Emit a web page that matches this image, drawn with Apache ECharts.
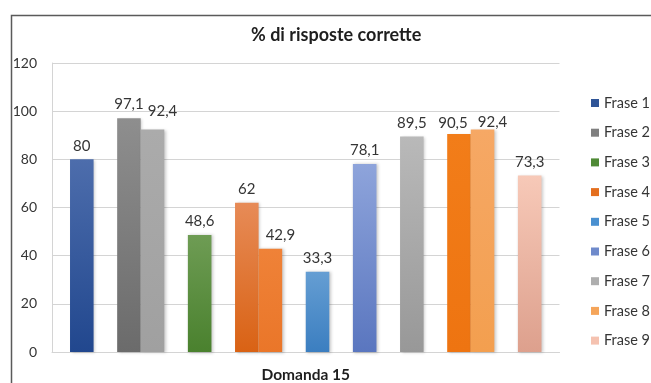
<!DOCTYPE html>
<html>
<head>
<meta charset="utf-8">
<style>
  html, body { margin: 0; padding: 0; background: #ffffff; }
  #chart { width: 651px; height: 383px; }
</style>
<script src="https://cdn.jsdelivr.net/npm/echarts@6/dist/echarts.min.js"></script>
</head>
<body>
<div id="chart"></div>
<script>
// Data
const titolo = '% di risposte corrette';
const categorie = ['Domanda 15'];
const frasi = ['Frase 1', 'Frase 2', 'Frase 3', 'Frase 4', 'Frase 5', 'Frase 6', 'Frase 7', 'Frase 8', 'Frase 9'];
// one list per sentence: some sentences have two bars side by side
const risposte = [[80], [97.1, 92.4], [48.6], [62, 42.9], [33.3], [78.1], [89.5], [90.5, 92.4], [73.3]];
const yMin = 0, yMax = 120, yStep = 20;

// Styles: vertical gradient (top, bottom) for every bar of every sentence
const riempimenti = [
  [['#4D6DAC', '#21478E']],
  [['#8E8E8E', '#6B6B6B'], ['#ABABAB', '#A0A0A0']],
  [['#6E9C54', '#4A812E']],
  [['#E78B57', '#D96214'], ['#EF8238', '#EA7629']],
  [['#659ED3', '#3B7EC0']],
  [['#8EA4DB', '#5A76BF']],
  [['#B9B9B9', '#989898']],
  [['#F27D19', '#EE7411'], ['#F6A865', '#F39F4F']],
  [['#F7C9B8', '#DDA08D']]
];
const coloriLegenda = ['#2F5597', '#7F7F7F', '#4F8A36', '#E46F1F', '#4A90D0', '#6F8ACB', '#AEAEAE', '#F5A55A', '#F5C2B0'];
// nudges for labels that would otherwise collide
const spostaEtichetta = { '1-1': [10, -5], '3-1': [10, 0], '7-0': [-6, 3], '7-1': [10, 6] };

const FONT = 'Lato';
const TESTO = '#353535';

function gradiente(c) {
  return new echarts.graphic.LinearGradient(0, 0, 0, 1, [
    { offset: 0, color: c[0] },
    { offset: 1, color: c[1] }
  ]);
}

const series = [];
risposte.forEach((valori, i) => {
  if (i > 0) {
    // empty slot separating consecutive sentences
    series.push({ type: 'bar', name: '', data: [null], silent: true, barGap: '0%', barCategoryGap: '7.1%' });
  }
  valori.forEach((v, j) => {
    series.push({
      type: 'bar',
      name: frasi[i],
      data: [v],
      barGap: '0%',
      barCategoryGap: '7.1%',
      itemStyle: {
        color: gradiente(riempimenti[i][j]),
        shadowColor: 'rgba(0,0,0,0.22)',
        shadowBlur: 3,
        shadowOffsetX: 1.5,
        shadowOffsetY: 0.5
      },
      label: {
        show: true,
        position: 'top',
        distance: 6,
        offset: spostaEtichetta[i + '-' + j] || [0, 0],
        color: TESTO,
        fontFamily: FONT,
        fontSize: 15,
        formatter: p => String(p.value).replace('.', ',')
      }
    });
  });
});

const chart = echarts.init(document.getElementById('chart'), null, { renderer: 'canvas' });
chart.setOption({
  animation: false,
  backgroundColor: '#ffffff',
  title: {
    text: titolo,
    left: 246,
    top: 21,
    textStyle: { fontFamily: FONT, fontSize: 18, fontWeight: 'bold', color: '#1E1E1E' }
  },
  graphic: [{
    type: 'rect',
    left: 9,
    top: 13,
    shape: { width: 700, height: 400 },
    style: { fill: 'none', stroke: '#5A5A5A', lineWidth: 1.5 },
    silent: true
  }],
  legend: {
    orient: 'vertical',
    left: 586,
    top: 90,
    icon: 'rect',
    itemWidth: 8,
    itemHeight: 8,
    itemGap: 13.7,
    selectedMode: false,
    textStyle: { fontFamily: FONT, fontSize: 14.5, color: TESTO, lineHeight: 16 },
    data: frasi.map((n, i) => ({ name: n, itemStyle: { color: coloriLegenda[i] } }))
  },
  grid: { left: 52, top: 63, right: 91.5, bottom: 29, containLabel: false },
  xAxis: {
    type: 'category',
    data: categorie,
    axisTick: { show: false },
    axisLine: { lineStyle: { color: '#D4D4D4', width: 1 } },
    axisLabel: { margin: 15, fontFamily: FONT, fontSize: 15.5, fontWeight: 'bold', color: '#1E1E1E' }
  },
  yAxis: {
    type: 'value',
    min: yMin,
    max: yMax,
    interval: yStep,
    axisLine: { show: true, lineStyle: { color: '#D4D4D4', width: 1 } },
    axisTick: { show: false },
    splitLine: { lineStyle: { color: '#D4D4D4', width: 1 } },
    axisLabel: { margin: 15, fontFamily: FONT, fontSize: 14, color: TESTO }
  },
  series: series
});
</script>
</body>
</html>
